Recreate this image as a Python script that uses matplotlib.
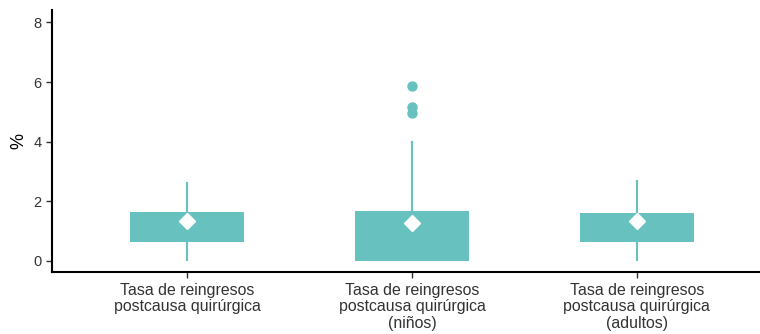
import matplotlib.pyplot as plt

# values (%)
labels = ['Tasa de reingresos\npostcausa quirúrgica',
          'Tasa de reingresos\npostcausa quirúrgica\n(niños)',
          'Tasa de reingresos\npostcausa quirúrgica\n(adultos)']
q1 = [0.65, 0.0, 0.65]
q3 = [1.65, 1.69, 1.60]
med = [1.2, 0.9, 1.2]
whis_lo = [0.03, 0.0, 0.03]
whis_hi = [2.6, 4.0, 2.68]
means = [1.34, 1.26, 1.34]
fliers = [[], [4.97, 5.17, 5.88], []]

teal = '#67C1BE'
plt.rcParams['font.family'] = ['Liberation Sans', 'DejaVu Sans']

fig = plt.figure(figsize=(7.6, 3.34), dpi=100)
ax = fig.add_axes([0.0684, 0.1847, 0.9316, 0.785])

stats = []
for i in range(len(labels)):
    stats.append({'q1': q1[i], 'q3': q3[i], 'med': med[i], 'mean': means[i],
                  'whislo': whis_lo[i], 'whishi': whis_hi[i], 'fliers': fliers[i]})

ax.bxp(stats, positions=[1, 2, 3], widths=0.507, patch_artist=True,
       showmeans=True, showcaps=False,
       boxprops=dict(facecolor=teal, edgecolor=teal, linewidth=0),
       whiskerprops=dict(color=teal, linewidth=1.5),
       medianprops=dict(visible=False),
       meanprops=dict(marker='D', markerfacecolor='white', markeredgecolor='white',
                      markersize=8),
       flierprops=dict(marker='o', markerfacecolor=teal, markeredgecolor=teal,
                       markersize=6.5))

ax.set_xlim(0.4, 3.547)
ax.set_ylim(-0.38, 8.41)
ax.set_yticks([0, 2, 4, 6, 8])
ax.set_xticks([1, 2, 3])
ax.set_xticklabels(labels, fontsize=11.4, color='#555555', linespacing=1.14)
ax.tick_params(axis='y', labelsize=10.5, labelcolor='#555555')
ax.tick_params(colors='#333333', length=4, width=1)
ax.set_ylabel('%', fontsize=13, color='black', labelpad=4.5)

for s in ['top', 'right']:
    ax.spines[s].set_visible(False)
for s in ['left', 'bottom']:
    ax.spines[s].set_linewidth(1.5)
    ax.spines[s].set_color('black')

fig.savefig('out.png', dpi=100)
